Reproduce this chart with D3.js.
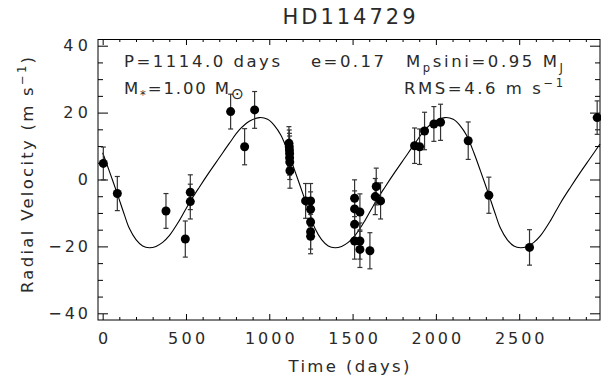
<!DOCTYPE html>
<html lang="en">
<head>
    <meta charset="UTF-8">
    <title>HD114729</title>
    <script src="https://d3js.org/d3.v7.min.js"></script>
    <style>
        body { margin: 0; background: #fff; }
        svg { display: block; }
        text { font-family: "DejaVu Sans", sans-serif; fill: #2a2a2a; }
        .axis text { font-size: 16px; }
        .axis line { stroke: #000; stroke-width: 1; }
    </style>
</head>
<body>
    <div id="chart"></div>

    <script>
        // observed radial velocities (days, m/s, error m/s)
        const obsDays = [4, 88, 380, 496, 526, 526, 768, 852, 912,
            1118, 1120, 1121, 1122, 1122, 1123, 1124,
            1218, 1248, 1248, 1248, 1248, 1248,
            1512, 1512, 1512, 1512, 1544, 1544, 1544, 1604, 1636, 1642, 1668,
            1872, 1902, 1932, 1988, 2028, 2194, 2318, 2562, 2968];
        const obsRV = [4.8, -4.2, -9.4, -17.8, -3.8, -6.6, 20.3, 9.8, 20.8,
            10.8, 9.8, 8.8, 7.8, 6.5, 5.2, 2.6,
            -6.4, -6.4, -8.9, -12.7, -15.6, -17.0,
            -5.6, -8.8, -13.4, -18.4, -9.7, -18.4, -20.9, -21.3, -5.1, -2.1, -6.4,
            10.1, 9.8, 14.5, 16.6, 17.1, 11.6, -4.7, -20.3, 18.5];
        const obsErr = [4.9, 5.1, 5.2, 5.4, 5.2, 5.2, 5.2, 5.4, 5.5,
            5.0, 5.0, 5.0, 5.2, 5.2, 5.2, 5.2,
            5.2, 5.2, 5.2, 5.2, 5.2, 5.2,
            5.5, 5.4, 5.4, 5.4, 5.4, 5.4, 5.4, 5.4, 5.4, 5.5, 5.4,
            5.3, 5.3, 5.6, 5.2, 5.4, 5.6, 5.4, 5.3, 5.0];

        // orbit fit curve
        const fitDays = [0, 40, 90, 130, 160, 200, 240, 280, 320, 360, 400, 460, 520, 580, 640, 700, 760, 820, 880, 940, 990, 1030, 1070,
            1114, 1154, 1204, 1244, 1274, 1314, 1354, 1394, 1434, 1474, 1514, 1574, 1634, 1694, 1754, 1814, 1874, 1934, 1994, 2054, 2104, 2144, 2184,
            2228, 2268, 2318, 2358, 2388, 2428, 2468, 2508, 2548, 2588, 2628, 2688, 2748, 2808, 2868, 2928, 2985];
        const fitRV = [8, 2.5, -4.6, -10.5, -14.6, -18, -19.9, -20.4, -20, -18.8, -16.8, -12.3, -7, -2.3, 2.2, 6.5, 10.8, 14.8, 17.4, 18.5, 18, 16.2, 13.2,
            8, 2.5, -4.6, -10.5, -14.6, -18, -19.9, -20.4, -20, -18.8, -16.8, -12.3, -7, -2.3, 2.2, 6.5, 10.8, 14.8, 17.4, 18.5, 18, 16.2, 13.2,
            8, 2.5, -4.6, -10.5, -14.6, -18, -19.9, -20.4, -20, -18.8, -16.8, -12.3, -7, -2.3, 2.2, 6.5, 10.6];

        const xTicks = [0, 500, 1000, 1500, 2000, 2500];
        const yTicks = [-40, -20, 0, 20, 40];

        const width = 601, height = 387;
        const svg = d3.select("#chart").append("svg")
            .attr("width", width).attr("height", height);

        const x = d3.scaleLinear().domain([-28, 2985]).range([98, 600]);
        const y = d3.scaleLinear().domain([-42, 42]).range([320, 39]);

        const xMinor = d3.range(0, 3000, 100).filter(d => d % 500 !== 0);
        const yMinor = d3.range(-40, 41, 5).filter(d => d % 20 !== 0);

        // wide, plotter-like character spacing for tick labels
        const labelWidth = s => [...s].reduce((w, c) => w + (c === "\u2212" ? 15 : 12.4), 0);

        function addAxis(axis, tx, ty) {
            const g = svg.append("g").attr("class", "axis")
                .attr("transform", `translate(${tx},${ty})`).call(axis);
            g.select(".domain").remove();
            g.selectAll("text").each(function () {
                const s = d3.select(this);
                if (s.text()) s.attr("textLength", labelWidth(s.text())).attr("lengthAdjust", "spacing");
            });
            return g;
        }

        const fmt = d3.format("d");
        // bottom / top
        addAxis(d3.axisBottom(x).tickValues(xTicks).tickFormat(fmt).tickSize(-6).tickSizeOuter(0).tickPadding(13), 0, 320);
        addAxis(d3.axisBottom(x).tickValues(xMinor).tickSize(-3).tickSizeOuter(0).tickFormat(""), 0, 320);
        addAxis(d3.axisTop(x).tickValues(xTicks).tickSize(-6).tickSizeOuter(0).tickFormat(""), 0, 39);
        addAxis(d3.axisTop(x).tickValues(xMinor).tickSize(-3).tickSizeOuter(0).tickFormat(""), 0, 39);
        // left / right
        addAxis(d3.axisLeft(y).tickValues(yTicks).tickFormat(fmt).tickSize(-10).tickSizeOuter(0).tickPadding(10), 98, 0);
        addAxis(d3.axisLeft(y).tickValues(yMinor).tickSize(-5).tickSizeOuter(0).tickFormat(""), 98, 0);
        addAxis(d3.axisRight(y).tickValues(yTicks).tickSize(-10).tickSizeOuter(0).tickFormat(""), 600, 0);
        addAxis(d3.axisRight(y).tickValues(yMinor).tickSize(-5).tickSizeOuter(0).tickFormat(""), 600, 0);

        svg.append("rect")
            .attr("x", 98).attr("y", 39.5).attr("width", 502).attr("height", 280.5)
            .attr("fill", "none").attr("stroke", "#000");

        // fit curve
        const line = d3.line()
            .x(i => x(fitDays[i])).y(i => y(fitRV[i]))
            .curve(d3.curveCatmullRom.alpha(0.5));
        svg.append("path")
            .attr("d", line(d3.range(fitDays.length)))
            .attr("fill", "none").attr("stroke", "#000").attr("stroke-width", 1.1);

        // error bars
        const idx = d3.range(obsDays.length);
        const bars = svg.append("g").attr("stroke", "#333").attr("stroke-width", 1.2);
        bars.selectAll("line.v").data(idx).join("line").attr("class", "v")
            .attr("x1", i => x(obsDays[i])).attr("x2", i => x(obsDays[i]))
            .attr("y1", i => y(obsRV[i] - obsErr[i])).attr("y2", i => y(obsRV[i] + obsErr[i]));
        bars.selectAll("line.t").data(idx).join("line").attr("class", "t")
            .attr("x1", i => x(obsDays[i]) - 2.5).attr("x2", i => x(obsDays[i]) + 2.5)
            .attr("y1", i => y(obsRV[i] + obsErr[i])).attr("y2", i => y(obsRV[i] + obsErr[i]));
        bars.selectAll("line.b").data(idx).join("line").attr("class", "b")
            .attr("x1", i => x(obsDays[i]) - 2.5).attr("x2", i => x(obsDays[i]) + 2.5)
            .attr("y1", i => y(obsRV[i] - obsErr[i])).attr("y2", i => y(obsRV[i] - obsErr[i]));

        svg.append("g").selectAll("circle").data(idx).join("circle")
            .attr("cx", i => x(obsDays[i])).attr("cy", i => y(obsRV[i]))
            .attr("r", 4.5).attr("fill", "#000");

        // text with sub/superscripts
        function rich(px, py, parts, size, len, anchor) {
            const t = svg.append("text").attr("x", px).attr("y", py)
                .attr("font-size", size).attr("text-anchor", anchor || "start");
            let shift = 0;
            parts.forEach(p => {
                const target = p.sub ? 5 : p.sup ? -7 : 0;
                const ts = t.append("tspan").attr("dy", target - shift).text(p.t);
                if (p.sub || p.sup) ts.attr("font-size", p.size || "70%");
                shift = target;
            });
            if (len) t.attr("textLength", len).attr("lengthAdjust", "spacing");
            return t;
        }

        rich(349, 24, [{t: "HD114729"}], 21, 133, "middle");

        rich(124, 67, [{t: "P=1114.0 days"}], 16.5, 156);
        rich(311, 67, [{t: "e=0.17"}], 16.5, 73);
        rich(406, 67, [{t: "M"}, {t: "p", sub: true}, {t: "sini=0.95 M"}, {t: "J", sub: true}], 16.5, 157);
        rich(124, 94, [{t: "M"}, {t: "*", sub: true}, {t: "=1.00 M"}, {t: "⊙", sub: true, size: "95%"}], 16.5, 120);
        rich(404, 94, [{t: "RMS=4.6 m s"}, {t: "−1", sup: true}], 16.5, 159);

        rich(349, 372, [{t: "Time (days)"}], 16.5, 121, "middle");

        const yt = rich(0, 0, [{t: "Radial Velocity (m s"}, {t: "−1", sup: true}, {t: ")"}], 16.5, 236, "middle");
        yt.attr("transform", "translate(33,175) rotate(-90)");
    </script>
</body>
</html>
